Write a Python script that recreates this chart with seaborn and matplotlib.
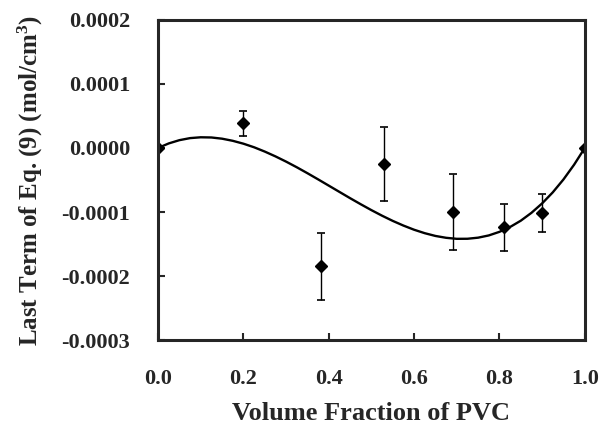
import numpy as np
import pandas as pd
import matplotlib
matplotlib.use("Agg")
import matplotlib.pyplot as plt
import seaborn as sns

# measured points (volume fraction of PVC) with error bars
phi = [0.0, 0.20, 0.382, 0.529, 0.692, 0.811, 0.899, 1.0]
term = [0.0, 0.0000385, -0.000185, -0.000025, -0.000100, -0.000124, -0.000102, 0.0]
err = [0.0, 0.000020, 0.000052, 0.000058, 0.000060, 0.000037, 0.000030, 0.0]

# fitted curve (units of 1e-6 mol/cm3)
fit_phi = [0.0, 0.025, 0.05, 0.075, 0.10, 0.125, 0.15, 0.175, 0.20, 0.225,
           0.25, 0.275, 0.30, 0.325, 0.35, 0.375, 0.40, 0.425, 0.45, 0.475,
           0.50, 0.525, 0.55, 0.575, 0.60, 0.625, 0.65, 0.675, 0.70, 0.725,
           0.75, 0.775, 0.80, 0.825, 0.85, 0.875, 0.90, 0.925, 0.95, 0.975, 1.0]
fit_term = [0.0, 7.1, 12.2, 15.4, 16.7, 16.4, 14.5, 11.2, 6.7, 1.1,
            -5.6, -13.1, -21.3, -30.1, -39.4, -49.0, -58.8, -68.6, -78.4, -87.9,
            -97.1, -105.8, -113.9, -121.2, -127.7, -133.1, -137.4, -140.3, -141.9, -141.8,
            -140.1, -136.6, -131.0, -123.4, -113.6, -101.3, -86.6, -69.3, -49.2, -26.1, 0.0]

xticks = [0.0, 0.2, 0.4, 0.6, 0.8, 1.0]
yticks = [-0.0003, -0.0002, -0.0001, 0.0, 0.0001, 0.0002]

sns.set_style("ticks")
plt.rcParams['font.family'] = ['Liberation Serif', 'DejaVu Serif']
plt.rcParams['font.weight'] = 'bold'
plt.rcParams['axes.unicode_minus'] = False
plt.rcParams['mathtext.fontset'] = 'custom'
plt.rcParams['mathtext.rm'] = 'Liberation Serif:bold'
plt.rcParams['mathtext.bf'] = 'Liberation Serif:bold'
plt.rcParams['mathtext.default'] = 'rm'

fig = plt.figure(figsize=(6.01, 4.24), dpi=100)
ax = fig.add_axes([0.263, 0.198, 0.710, 0.755])

fit = pd.DataFrame({'phi': fit_phi, 'term': [v * 1e-6 for v in fit_term]})
sns.lineplot(data=fit, x='phi', y='term', color='black', linewidth=1.7, ax=ax)

ax.errorbar(phi, term, yerr=err, fmt='D', color='black', markersize=6,
            ecolor='black', elinewidth=1.0, capsize=3, capthick=1.2)

ax.set_xlim(0, 1.0)
ax.set_ylim(-0.0003, 0.0002)
ax.set_xticks(xticks)
ax.set_yticks(yticks)
ax.set_xticklabels(['%.1f' % v for v in xticks])
ax.set_yticklabels(['%.4f' % v for v in yticks])
ax.tick_params(direction='in', length=5, width=1.5, labelsize=16, pad=20,
               top=False, right=False)
ax.tick_params(axis='x', pad=21)
for s in ax.spines.values():
    s.set_linewidth(2.2)
    s.set_visible(True)

ax.set_xlabel('Volume Fraction of PVC', fontsize=19, fontweight='bold', labelpad=9)
ax.set_ylabel('Last Term of Eq. (9) (mol/cm$^{3}$)', fontsize=18,
              fontweight='bold', labelpad=12)

fig.savefig('out.png', dpi=100)
